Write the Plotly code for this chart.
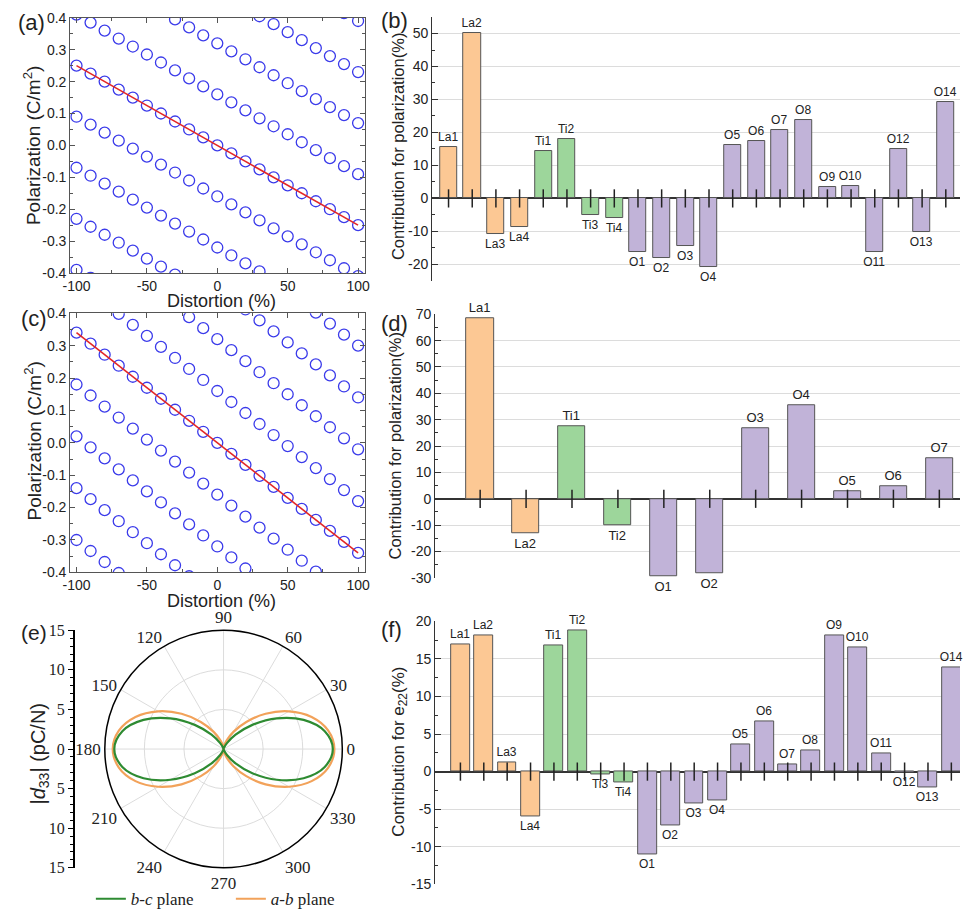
import plotly.graph_objects as go

W, H = 965, 920
SANS = "Liberation Sans, Arial, sans-serif"
SERIF = "Liberation Serif, Times New Roman, serif"
INK = "#222222"
FRAME = "#555555"

# ---------------- data ----------------
distortion = [-100, -90, -80, -70, -60, -50, -40, -30, -20, -10, 0,
              10, 20, 30, 40, 50, 60, 70, 80, 90, 100]

# panel (a): polarization branches (C/m^2)
pa_m4 = [-0.39, -0.415, -0.44, -0.465, -0.49, -0.515, -0.54, -0.565, -0.59, -0.615, -0.64, -0.665, -0.69, -0.715, -0.74, -0.765, -0.79, -0.815, -0.84, -0.865, -0.89]
pa_m3 = [-0.23, -0.255, -0.28, -0.305, -0.33, -0.355, -0.38, -0.405, -0.43, -0.455, -0.48, -0.505, -0.53, -0.555, -0.58, -0.605, -0.63, -0.655, -0.68, -0.705, -0.73]
pa_m2 = [-0.07, -0.095, -0.12, -0.145, -0.17, -0.195, -0.22, -0.245, -0.27, -0.295, -0.32, -0.345, -0.37, -0.395, -0.42, -0.445, -0.47, -0.495, -0.52, -0.545, -0.57]
pa_m1 = [0.09, 0.065, 0.04, 0.015, -0.01, -0.035, -0.06, -0.085, -0.11, -0.135, -0.16, -0.185, -0.21, -0.235, -0.26, -0.285, -0.31, -0.335, -0.36, -0.385, -0.41]
pa_0 = [0.25, 0.225, 0.2, 0.175, 0.15, 0.125, 0.1, 0.075, 0.05, 0.025, 0.0, -0.025, -0.05, -0.075, -0.1, -0.125, -0.15, -0.175, -0.2, -0.225, -0.25]
pa_p1 = [0.41, 0.385, 0.36, 0.335, 0.31, 0.285, 0.26, 0.235, 0.21, 0.185, 0.16, 0.135, 0.11, 0.085, 0.06, 0.035, 0.01, -0.015, -0.04, -0.065, -0.09]
pa_p2 = [0.57, 0.545, 0.52, 0.495, 0.47, 0.445, 0.42, 0.395, 0.37, 0.345, 0.32, 0.295, 0.27, 0.245, 0.22, 0.195, 0.17, 0.145, 0.12, 0.095, 0.07]
pa_p3 = [0.73, 0.705, 0.68, 0.655, 0.63, 0.605, 0.58, 0.555, 0.53, 0.505, 0.48, 0.455, 0.43, 0.405, 0.38, 0.355, 0.33, 0.305, 0.28, 0.255, 0.23]
pa_p4 = [0.89, 0.865, 0.84, 0.815, 0.79, 0.765, 0.74, 0.715, 0.69, 0.665, 0.64, 0.615, 0.59, 0.565, 0.54, 0.515, 0.49, 0.465, 0.44, 0.415, 0.39]
fit_x = [-100, 100]
fit_a_y = [0.25, -0.25]

# panel (c)
pc_m4 = [-0.3, -0.334, -0.368, -0.402, -0.436, -0.47, -0.504, -0.538, -0.572, -0.606, -0.64, -0.674, -0.708, -0.742, -0.776, -0.81, -0.844, -0.878, -0.912, -0.946, -0.98]
pc_m3 = [-0.14, -0.174, -0.208, -0.242, -0.276, -0.31, -0.344, -0.378, -0.412, -0.446, -0.48, -0.514, -0.548, -0.582, -0.616, -0.65, -0.684, -0.718, -0.752, -0.786, -0.82]
pc_m2 = [0.02, -0.014, -0.048, -0.082, -0.116, -0.15, -0.184, -0.218, -0.252, -0.286, -0.32, -0.354, -0.388, -0.422, -0.456, -0.49, -0.524, -0.558, -0.592, -0.626, -0.66]
pc_m1 = [0.18, 0.146, 0.112, 0.078, 0.044, 0.01, -0.024, -0.058, -0.092, -0.126, -0.16, -0.194, -0.228, -0.262, -0.296, -0.33, -0.364, -0.398, -0.432, -0.466, -0.5]
pc_0 = [0.34, 0.306, 0.272, 0.238, 0.204, 0.17, 0.136, 0.102, 0.068, 0.034, 0.0, -0.034, -0.068, -0.102, -0.136, -0.17, -0.204, -0.238, -0.272, -0.306, -0.34]
pc_p1 = [0.5, 0.466, 0.432, 0.398, 0.364, 0.33, 0.296, 0.262, 0.228, 0.194, 0.16, 0.126, 0.092, 0.058, 0.024, -0.01, -0.044, -0.078, -0.112, -0.146, -0.18]
pc_p2 = [0.66, 0.626, 0.592, 0.558, 0.524, 0.49, 0.456, 0.422, 0.388, 0.354, 0.32, 0.286, 0.252, 0.218, 0.184, 0.15, 0.116, 0.082, 0.048, 0.014, -0.02]
pc_p3 = [0.82, 0.786, 0.752, 0.718, 0.684, 0.65, 0.616, 0.582, 0.548, 0.514, 0.48, 0.446, 0.412, 0.378, 0.344, 0.31, 0.276, 0.242, 0.208, 0.174, 0.14]
pc_p4 = [0.98, 0.946, 0.912, 0.878, 0.844, 0.81, 0.776, 0.742, 0.708, 0.674, 0.64, 0.606, 0.572, 0.538, 0.504, 0.47, 0.436, 0.402, 0.368, 0.334, 0.3]
fit_c_y = [0.34, -0.34]

a_branches = [pa_m4, pa_m3, pa_m2, pa_m1, pa_0, pa_p1, pa_p2, pa_p3, pa_p4]
c_branches = [pc_m4, pc_m3, pc_m2, pc_m1, pc_0, pc_p1, pc_p2, pc_p3, pc_p4]

# panel (b)
b_labels = ["La1", "La2", "La3", "La4", "Ti1", "Ti2", "Ti3", "Ti4",
            "O1", "O2", "O3", "O4", "O5", "O6", "O7", "O8", "O9", "O10",
            "O11", "O12", "O13", "O14"]
b_values = [15.6, 50.0, -10.7, -8.7, 14.4, 18.1, -4.9, -5.8,
            -16.4, -18.1, -14.3, -20.8, 16.2, 17.5, 20.8, 23.8, 3.6, 3.7,
            -16.3, 14.9, -10.1, 29.2]

# panel (d)
d_labels = ["La1", "La2", "Ti1", "Ti2", "O1", "O2", "O3", "O4", "O5", "O6", "O7"]
d_values = [68.5, -13.2, 27.7, -9.9, -29.2, -28.3, 26.6, 35.6, 2.7, 4.6, 15.4]

# panel (f)
f_labels = ["La1", "La2", "La3", "La4", "Ti1", "Ti2", "Ti3", "Ti4",
            "O1", "O2", "O3", "O4", "O5", "O6", "O7", "O8", "O9", "O10",
            "O11", "O12", "O13", "O14"]
f_values = [16.9, 18.1, 1.27, -5.98, 16.8, 18.85, -0.39, -1.48,
            -11.1, -7.2, -4.2, -3.9, 3.67, 6.68, 0.92, 2.88, 18.2, 16.6,
            2.4, -0.17, -2.1, 13.9]

# panel (e): |d33| (pC/N) vs angle
theta_deg = [0, 10, 20, 30, 40, 50, 60, 70, 80, 90, 100, 110, 120, 130, 140, 150, 160, 170, 180,
             190, 200, 210, 220, 230, 240, 250, 260, 270, 280, 290, 300, 310, 320, 330, 340, 350, 360]
r_bc = [13.8, 12.98, 10.76, 7.76, 4.75, 2.36, 0.86, 0.19, 0.01, 0.0, 0.01, 0.19, 0.86, 2.36, 4.75, 7.76, 10.76, 12.98, 13.8,
        12.98, 10.76, 7.76, 4.75, 2.36, 0.86, 0.19, 0.01, 0.0, 0.01, 0.19, 0.86, 2.36, 4.75, 7.76, 10.76, 12.98, 13.8]
r_ab = [14.0, 13.43, 11.84, 9.53, 6.93, 4.47, 2.5, 1.16, 0.41, 0.0, 0.41, 1.16, 2.5, 4.47, 6.93, 9.53, 11.84, 13.43, 14.0,
        13.43, 11.84, 9.53, 6.93, 4.47, 2.5, 1.16, 0.41, 0.0, 0.41, 1.16, 2.5, 4.47, 6.93, 9.53, 11.84, 13.43, 14.0]

# tick labels
pol_ticks = [-0.4, -0.3, -0.2, -0.1, 0.0, 0.1, 0.2, 0.3, 0.4]
pol_ticktext = ["-0.4", "-0.3", "-0.2", "-0.1", "0.0", "0.1", "0.2", "0.3", "0.4"]
dist_ticks = [-100, -50, 0, 50, 100]
dist_ticktext = ["-100", "-50", "0", "50", "100"]
b_yticks = [-20, -10, 0, 10, 20, 30, 40, 50]
d_yticks = [-30, -20, -10, 0, 10, 20, 30, 40, 50, 60, 70]
f_yticks = [-15, -10, -5, 0, 5, 10, 15, 20]
e_rticks = [-15, -10, -5, 0, 5, 10, 15]
e_rticktext = ["15", "10", "5", "0", "5", "10", "15"]
angle_ticks = [0, 30, 60, 90, 120, 150, 180, 210, 240, 270, 300, 330]
angle_ticktext = ["0", "30", "60", "90", "120", "150", "180", "210", "240", "270", "300", "330"]

ELEMENT_COLORS = {"La": "#fcc894", "Ti": "#9dd69b", "O": "#c1b3d8"}


def element_of(label):
    return label.rstrip("0123456789")


def dom_x(x0, x1):
    return [x0 / W, min(1.0, x1 / W)]


def dom_y(y_top, y_bottom):
    return [1 - y_bottom / H, 1 - y_top / H]


fig = go.Figure()

# ---- scatter panels (a) and (c) ----
for branches, fit_y, xa, ya in [(a_branches, fit_a_y, "x", "y"), (c_branches, fit_c_y, "x3", "y3")]:
    for br in branches:
        fig.add_trace(go.Scatter(
            x=distortion, y=br, mode="markers", xaxis=xa, yaxis=ya,
            marker=dict(symbol="circle-open", size=11, color="#3b3bea", line=dict(width=1.3)),
            showlegend=False, hoverinfo="skip"))
    fig.add_trace(go.Scatter(
        x=fit_x, y=fit_y, mode="lines", xaxis=xa, yaxis=ya,
        line=dict(color="#e32626", width=1.6), showlegend=False, hoverinfo="skip"))


# ---- bar panels ----
def add_bars(labels, values, xa, ya, width, fsize):
    colors = [ELEMENT_COLORS[element_of(l)] for l in labels]
    fig.add_trace(go.Bar(
        x=labels, y=values, width=width, xaxis=xa, yaxis=ya,
        marker=dict(color=colors, line=dict(color="#555555", width=1)),
        text=labels, textposition="outside", constraintext="none", cliponaxis=False,
        textfont=dict(family=SANS, size=fsize, color=INK),
        showlegend=False, hoverinfo="skip"))
    fig.add_trace(go.Scatter(
        x=labels, y=[0] * len(labels), mode="markers", xaxis=xa, yaxis=ya,
        marker=dict(symbol="line-ns", size=13, color=INK, line=dict(color=INK, width=1.5)),
        cliponaxis=False, showlegend=False, hoverinfo="skip"))


add_bars(b_labels, b_values, "x2", "y2", 0.72, 12)
add_bars(d_labels, d_values, "x4", "y4", 0.59, 13)
add_bars(f_labels, f_values, "x6", "y6", 0.81, 12)

# ---- polar panel (e) ----
fig.add_trace(go.Scatterpolar(
    r=r_ab, theta=theta_deg, mode="lines", subplot="polar",
    line=dict(color="#f2a25a", width=2.2, shape="spline"),
    name="<i>a-b</i> plane", legendrank=2, hoverinfo="skip"))
fig.add_trace(go.Scatterpolar(
    r=r_bc, theta=theta_deg, mode="lines", subplot="polar",
    line=dict(color="#2e8b32", width=2.2, shape="spline"),
    name="<i>b-c</i> plane", legendrank=1, hoverinfo="skip"))
# empty trace so that the linear |d33| scale beside the polar plot is drawn
fig.add_trace(go.Scatter(x=[], y=[], xaxis="x5", yaxis="y5", mode="markers",
                         showlegend=False, hoverinfo="skip"))

tickfont = dict(family=SANS, size=14, color=INK)


def frame_axis(domain, rng, anchor, tickvals, ticktext, minor_dtick):
    return dict(domain=domain, range=rng, anchor=anchor, tickmode="array",
                tickvals=tickvals, ticktext=ticktext, showline=True, linecolor=FRAME,
                linewidth=1, mirror="allticks", ticks="inside", ticklen=5, tickwidth=1,
                tickcolor=FRAME, minor=dict(ticks="inside", ticklen=3, dtick=minor_dtick,
                                            tick0=0, tickcolor=FRAME),
                showgrid=False, zeroline=False, tickfont=tickfont)


def bar_yaxis(domain, rng, anchor, tickvals, minor_dtick):
    return dict(domain=domain, range=rng, anchor=anchor, tickmode="array",
                tickvals=tickvals, ticktext=[str(v) for v in tickvals],
                showline=True, linecolor="#333333", linewidth=1.2, ticks="inside",
                ticklen=6, tickwidth=1.2, tickcolor="#333333",
                minor=dict(ticks="inside", ticklen=3, dtick=minor_dtick, tick0=0,
                           tickcolor="#333333", showgrid=False),
                showgrid=True, gridcolor="#dcdcdc", gridwidth=1,
                zeroline=True, zerolinecolor="#333333", zerolinewidth=1.6,
                tickfont=tickfont)


def bar_xaxis(domain, rng, anchor):
    return dict(domain=domain, range=rng, anchor=anchor, visible=False, type="category")


annotations = []


def note(text, x, y, size, angle=0, family=SANS):
    annotations.append(dict(text=text, x=x / W, y=1 - y / H, xref="paper", yref="paper",
                            showarrow=False, textangle=angle, xanchor="center",
                            yanchor="middle", font=dict(family=family, size=size, color=INK)))


for t, x, y, s in [("(a)", 24, 15, 22), ("(b)", 392, 13, 22), ("(c)", 26, 316, 22),
                   ("(d)", 392, 321, 22), ("(e)", 26, 636, 21), ("(f)", 389, 633, 22)]:
    note(t, x, y, s)

note("Polarization (C/m<sup>2</sup>)", 25, 140, 19, -90)
note("Distortion (%)", 216, 299, 18)
note("Polarization (C/m<sup>2</sup>)", 25, 441, 19, -90)
note("Distortion (%)", 216, 604, 18)
note("Contribution for polarization(%)", 396, 141, 16.5, -90)
note("Contribution for polarization(%)", 392, 446, 16.5, -90)
note("Contribution for e<sub>22</sub>(%)", 397, 758, 17, -90)
note("|<i>d</i><sub>33</sub>| (pC/N)", 32, 760, 20, -90)

fig.update_layout(
    width=W, height=H, margin=dict(l=0, r=0, t=0, b=0),
    paper_bgcolor="white", plot_bgcolor="white",
    font=dict(family=SANS, color=INK),
    bargap=0,
    xaxis=frame_axis(dom_x(63, 362), [-104.5, 105], "y", dist_ticks, dist_ticktext, 25),
    yaxis=frame_axis(dom_y(10, 270), [-0.4, 0.4], "x", pol_ticks, pol_ticktext, 0.05),
    xaxis3=frame_axis(dom_x(63, 362), [-104.5, 105], "y3", dist_ticks, dist_ticktext, 25),
    yaxis3=frame_axis(dom_y(311, 575), [-0.4, 0.4], "x3", pol_ticks, pol_ticktext, 0.05),
    xaxis2=bar_xaxis(dom_x(430, 965), [-0.69, 21.6], "y2"),
    yaxis2=bar_yaxis(dom_y(9.2, 278), [-25, 55], "x2", b_yticks, 5),
    xaxis4=bar_xaxis(dom_x(433, 965), [-0.98, 10.45], "y4"),
    yaxis4=bar_yaxis(dom_y(312, 580.6), [-30, 70], "x4", d_yticks, 5),
    xaxis6=bar_xaxis(dom_x(433, 965), [-1.08, 21.37], "y6"),
    yaxis6=bar_yaxis(dom_y(625, 892.7), [-15, 20], "x6", f_yticks, 2.5),
    xaxis5=dict(domain=dom_x(67.7, 70), range=[0, 1], anchor="y5", visible=False),
    yaxis5=dict(domain=dom_y(634, 876), range=[-15, 15], anchor="x5", side="left",
                tickmode="array", tickvals=e_rticks, ticktext=e_rticktext,
                showline=True, linecolor="black", linewidth=1.5, ticks="outside",
                ticklen=5, tickwidth=1.2, tickcolor="black",
                minor=dict(ticks="outside", ticklen=3, dtick=1, tick0=0, tickcolor="black"),
                showgrid=False, zeroline=False,
                tickfont=dict(family=SERIF, size=16, color=INK)),
    polar=dict(
        domain=dict(x=dom_x(97.5, 339.5), y=dom_y(634, 876)),
        bgcolor="white",
        radialaxis=dict(range=[0, 15], dtick=5, showline=False, showticklabels=False,
                        ticks="", gridcolor="#dcdcdc", gridwidth=1),
        angularaxis=dict(rotation=0, direction="counterclockwise", tickmode="array",
                         tickvals=angle_ticks, ticktext=angle_ticktext,
                         showline=True, linecolor="black", linewidth=1.5,
                         gridcolor="#dcdcdc", ticks="",
                         tickfont=dict(family=SERIF, size=17, color=INK))),
    showlegend=True,
    legend=dict(orientation="h", x=84 / W, y=1 - 908 / H, xanchor="left", yanchor="middle",
                font=dict(family=SERIF, size=17, color=INK), bgcolor="rgba(0,0,0,0)",
                itemwidth=30, entrywidth=95, entrywidthmode="pixels"),
    annotations=annotations,
)

fig.write_html("out.html", config={"displayModeBar": False},
               post_script="document.body.style.margin='0';")
